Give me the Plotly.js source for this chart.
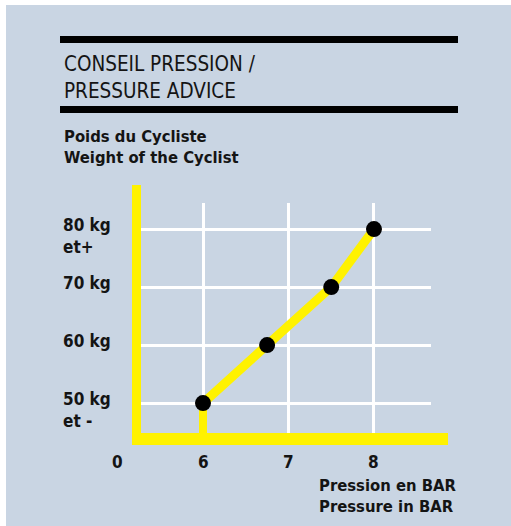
<!DOCTYPE html>
<html>
<head>
<meta charset="utf-8">
<script src="https://cdn.plot.ly/plotly-3.0.1.min.js"></script>
<style>html,body{margin:0;padding:0;background:#fff;}#chart{width:511px;height:526px;}</style>
</head>
<body>
<div id="chart"></div>
<script>
// ---- data ----
var pressureBar = [6, 6.75, 7.5, 8];
var cyclistWeightKg = [50, 60, 70, 80];
var xTickVals = [6, 7, 8];
var xTickText = ['6', '7', '8'];
var xOriginVal = 5;
var xOriginText = '0';
var yTickVals = [50, 60, 70, 80];
var yTickText = ['50 kg<br>et -', '60 kg', '70 kg', '80 kg<br>et+'];
var titleText = 'CONSEIL PRESSION /<br>PRESSURE ADVICE';
var yTitleText = 'Poids du Cycliste<br>Weight of the Cyclist';
var xTitleText = 'Pression en BAR<br>Pressure in BAR';

// ---- layout geometry ----
var W = 511, H = 526;
var L = 137, R = 80, T = 203, B = 87;
var PW = W - L - R, PH = H - T - B;
function px(x) { return (x - L) / PW; }
function py(y) { return (H - B - y) / PH; }
var xRange = [5.228, 8.667];
var yRange = [43.8, 84.5];
function xFrac(v) { return (v - xRange[0]) / (xRange[1] - xRange[0]); }

var FONT = 'DejaVu Sans Condensed, Liberation Sans Narrow, sans-serif';
var BLUE = '#c9d5e3';
var YEL = '#fff200';
var INK = '#141414';

function bold(s) { return '<b>' + s.split('<br>').join('</b><br><b>') + '</b>'; }

var annotations = [];
yTickVals.forEach(function (v, i) {
  annotations.push({
    xref: 'paper', yref: 'y', x: px(61), y: v, xanchor: 'left', yanchor: 'top',
    yshift: 16, text: bold(yTickText[i]), showarrow: false, align: 'left',
    font: {family: FONT, size: 17, color: INK}
  });
});
xTickVals.forEach(function (v, i) {
  annotations.push({
    xref: 'x', yref: 'paper', x: v, y: py(450), xanchor: 'center', yanchor: 'top',
    text: bold(xTickText[i]), showarrow: false, font: {family: FONT, size: 17, color: INK}
  });
});
annotations.push({
  xref: 'paper', yref: 'paper', x: xFrac(xOriginVal), y: py(450), xanchor: 'center', yanchor: 'top',
  text: bold(xOriginText), showarrow: false, font: {family: FONT, size: 17, color: INK}
});
annotations.push({
  xref: 'paper', yref: 'paper', x: px(62), y: py(125), xanchor: 'left', yanchor: 'top',
  text: bold(yTitleText), showarrow: false, align: 'left', font: {family: FONT, size: 16.5, color: INK}
});
annotations.push({
  xref: 'paper', yref: 'paper', x: px(317), y: py(474), xanchor: 'left', yanchor: 'top',
  text: bold(xTitleText), showarrow: false, align: 'left', font: {family: FONT, size: 16.5, color: INK}
});
annotations.push({
  xref: 'paper', yref: 'paper', x: px(62), y: py(50), xanchor: 'left', yanchor: 'top',
  text: titleText, showarrow: false, align: 'left', font: {family: FONT, size: 20.5, color: INK}
});

var shapes = [
  // background panel
  {type: 'rect', xref: 'paper', yref: 'paper', x0: px(6), x1: px(W + 2), y0: py(5), y1: py(H + 2),
   fillcolor: BLUE, line: {width: 0}, layer: 'below'},
  // title rules
  {type: 'rect', xref: 'paper', yref: 'paper', x0: px(60), x1: px(458), y0: py(36), y1: py(43),
   fillcolor: '#000', line: {width: 0}, layer: 'above'},
  {type: 'rect', xref: 'paper', yref: 'paper', x0: px(60), x1: px(458), y0: py(106), y1: py(113),
   fillcolor: '#000', line: {width: 0}, layer: 'above'},
  // drop line from first point to the axis
  {type: 'line', xref: 'x', yref: 'y', x0: pressureBar[0], x1: pressureBar[0],
   y0: cyclistWeightKg[0], y1: yRange[0], line: {color: YEL, width: 8}, layer: 'between'},
  // yellow axes
  {type: 'rect', xref: 'paper', yref: 'paper', x0: px(132), x1: px(141), y0: py(185), y1: py(445),
   fillcolor: YEL, line: {width: 0}, layer: 'above'},
  {type: 'rect', xref: 'paper', yref: 'paper', x0: px(132), x1: px(448), y0: py(433), y1: py(445),
   fillcolor: YEL, line: {width: 0}, layer: 'above'}
];

var trace = {
  type: 'scatter', mode: 'lines+markers', x: pressureBar, y: cyclistWeightKg,
  line: {color: YEL, width: 9},
  marker: {color: '#000', size: 16},
  hoverinfo: 'skip', cliponaxis: false
};

var layout = {
  width: W, height: H,
  margin: {l: L, r: R, t: T, b: B, pad: 0},
  paper_bgcolor: '#ffffff', plot_bgcolor: BLUE,
  showlegend: false,
  xaxis: {range: xRange, tickvals: xTickVals, showticklabels: false, showgrid: true,
          gridcolor: '#ffffff', gridwidth: 3, zeroline: false, showline: false, ticks: '', fixedrange: true},
  yaxis: {range: yRange, tickvals: yTickVals, showticklabels: false, showgrid: true,
          gridcolor: '#ffffff', gridwidth: 3, zeroline: false, showline: false, ticks: '', fixedrange: true},
  annotations: annotations,
  shapes: shapes
};

Plotly.newPlot('chart', [trace], layout, {displayModeBar: false, staticPlot: true});
</script>
</body>
</html>
